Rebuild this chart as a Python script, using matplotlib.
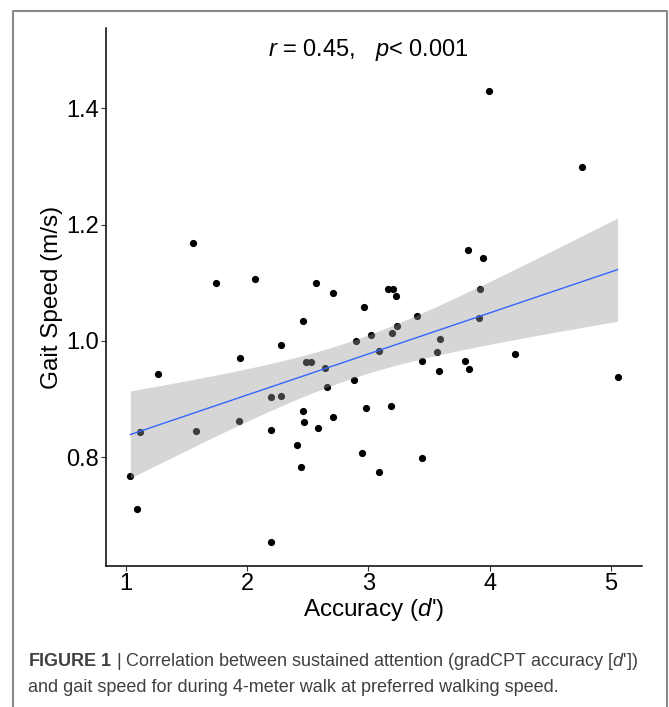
import numpy as np
import matplotlib
matplotlib.use("Agg")
import matplotlib.pyplot as plt
from matplotlib.lines import Line2D

plt.rcParams['font.family'] = ['Liberation Sans', 'DejaVu Sans']
plt.rcParams['mathtext.fontset'] = 'custom'
plt.rcParams['mathtext.rm'] = 'Liberation Sans'
plt.rcParams['mathtext.it'] = 'Liberation Sans:italic'
plt.rcParams['mathtext.bf'] = 'Liberation Sans:bold'

# accuracy (d') and gait speed (m/s)
accuracy = [1.55, 1.74, 2.064, 2.57, 2.71, 2.966, 2.46, 2.894, 3.02, 3.087,
            2.28, 1.94, 1.266, 2.485, 2.53, 2.64, 2.66, 2.88, 2.193, 2.28,
            2.977, 2.457, 2.468, 2.71, 2.584, 1.932, 2.198, 1.577, 1.118, 2.41,
            2.95, 2.446, 3.09, 1.036, 1.094, 2.20,
            3.944, 3.158, 3.205, 3.224, 3.397, 3.917, 3.911, 3.232, 3.196, 3.587,
            3.565, 3.439, 3.80, 3.826, 3.58, 4.211, 3.188, 3.444, 3.997, 4.763,
            3.824, 5.055]
gait = [1.168, 1.099, 1.107, 1.100, 1.083, 1.058, 1.035, 1.000, 1.011, 0.982,
        0.993, 0.971, 0.943, 0.963, 0.963, 0.954, 0.920, 0.933, 0.904, 0.905,
        0.885, 0.880, 0.861, 0.869, 0.850, 0.862, 0.846, 0.845, 0.843, 0.821,
        0.807, 0.783, 0.775, 0.767, 0.711, 0.654,
        1.143, 1.089, 1.090, 1.077, 1.042, 1.090, 1.039, 1.026, 1.013, 1.004,
        0.981, 0.966, 0.966, 0.951, 0.948, 0.978, 0.888, 0.799, 1.429, 1.299,
        1.156, 0.938]
x_ticks = [1, 2, 3, 4, 5]
y_ticks = [0.8, 1.0, 1.2, 1.4]

x = np.array(accuracy)
y = np.array(gait)
n = len(x)

# linear fit + 95% confidence band (like geom_smooth(method="lm"))
b, a = np.polyfit(x, y, 1)
xs = np.linspace(x.min(), x.max(), 100)
ys = a + b * xs
resid = y - (a + b * x)
s = np.sqrt(np.sum(resid ** 2) / (n - 2))
se = s * np.sqrt(1 / n + (xs - x.mean()) ** 2 / np.sum((x - x.mean()) ** 2))
t = 2.003

fig = plt.figure(figsize=(6.69, 7.07), dpi=100)
ax = fig.add_axes([0.1584, 0.1994, 0.8012, 0.761])

ax.scatter(x, y, s=27, color='black', linewidths=0, zorder=2)
ax.fill_between(xs, ys - t * se, ys + t * se, color='#999999', alpha=0.4,
                linewidth=0, zorder=3)
ax.plot(xs, ys, color='#3366FF', linewidth=1.0, zorder=4)

ax.text(3.0, 1.50, r"$\it{r}$ = 0.45,   $\it{p}$< 0.001", ha='center',
        va='center', fontsize=17)

ax.set_xlim(0.835, 5.256)
ax.set_ylim(0.613, 1.538)
ax.set_xticks(x_ticks)
ax.set_yticks(y_ticks)
ax.set_yticklabels([f"{v:.1f}" for v in y_ticks])
ax.tick_params(labelsize=17, length=3.5, width=0.8, pad=1.5, color='#333333')
for side in ['top', 'right']:
    ax.spines[side].set_visible(False)
for side in ['left', 'bottom']:
    ax.spines[side].set_linewidth(1.1)

ax.set_xlabel(r"Accuracy ($\it{d}$')", fontsize=17.5, labelpad=1)
ax.set_ylabel("Gait Speed (m/s)", fontsize=17.5, labelpad=2)

# caption
fig.text(28 / 669, 1 - 662 / 707,
         r"$\bf{FIGURE\ 1}$ | Correlation between sustained attention (gradCPT accuracy [$\it{d}$'])",
         fontsize=13, color='#404040', va='center', ha='left')
fig.text(28 / 669, 1 - 688 / 707,
         "and gait speed for during 4-meter walk at preferred walking speed.",
         fontsize=13, color='#404040', va='center', ha='left')

# frame around the figure (open at the bottom)
w, h = 669, 707
fig.add_artist(Line2D([13 / w, 13 / w, 667 / w, 667 / w],
                      [0, 1 - 11 / h, 1 - 11 / h, 0],
                      color='#8a8a8a', linewidth=1.5))

fig.savefig("out.png", dpi=100)
